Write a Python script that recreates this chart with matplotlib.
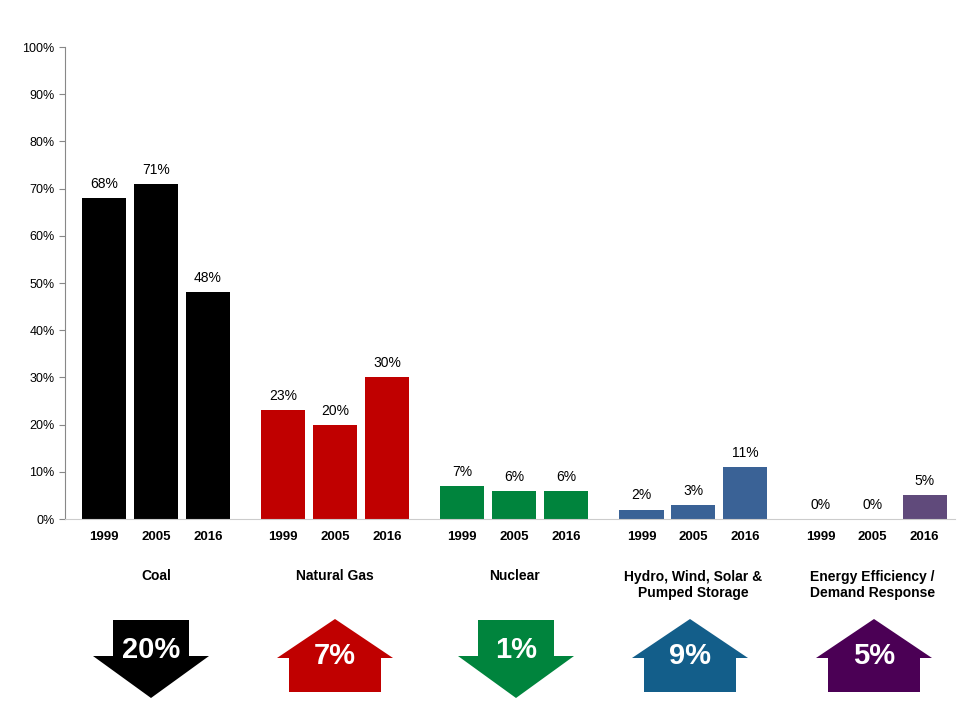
import numpy as np
import matplotlib.pyplot as plt
from matplotlib.patches import Polygon
from matplotlib.ticker import PercentFormatter

plt.rcParams['font.family'] = ['Liberation Sans', 'DejaVu Sans']

categories = ['Coal', 'Natural Gas', 'Nuclear', 'Hydro, Wind, Solar &\nPumped Storage',
              'Energy Efficiency /\nDemand Response']
years = ['1999', '2005', '2016']
values = [[68, 71, 48], [23, 20, 30], [7, 6, 6], [2, 3, 11], [0, 0, 5]]
bar_colors = ['#000000', '#C00000', '#00843D', '#3A6296', '#604A7B']
changes = ['20%', '7%', '1%', '9%', '5%']
directions = ['down', 'up', 'down', 'up', 'up']
arrow_colors = ['#000000', '#C00000', '#00843D', '#135E8A', '#4B0055']

W, H = 978, 722
fig = plt.figure(figsize=(W / 100, H / 100), dpi=100)
# axes box in pixels: left 65, right 955, top 47, bottom 519
ax = fig.add_axes([65 / W, 1 - 519 / H, (955 - 65) / W, (519 - 47) / H])

offsets = np.array([-0.29, 0, 0.29])
width = 0.246
for i, vals in enumerate(values):
    xs = i + offsets
    ax.bar(xs, vals, width, color=bar_colors[i])
    for x, v, yr in zip(xs, vals, years):
        ax.text(x, v + 1.5, f'{v}%', ha='center', va='bottom', fontsize=10)
        ax.text(x, -2.5, yr, ha='center', va='top', fontsize=9.5, fontweight='bold')
    ax.text(i, -10.5 if '\n' not in categories[i] else -10.8, categories[i],
            ha='center', va='top', fontsize=10, fontweight='bold', linespacing=1.2)

ax.set_xlim(-0.508, 4.46)
ax.set_ylim(0, 100)
ax.set_yticks(range(0, 101, 10))
ax.yaxis.set_major_formatter(PercentFormatter(decimals=0))
ax.tick_params(axis='y', labelsize=9, length=4, color='#888888')
ax.set_xticks([])
for s in ['top', 'right']:
    ax.spines[s].set_visible(False)
ax.spines['left'].set_color('#888888')
ax.spines['bottom'].set_color('#cccccc')

centers_px = [151, 335, 516, 690, 874]
for cx, lab, d, col in zip(centers_px, changes, directions, arrow_colors):
    hw, sw = 58, 38
    if d == 'down':
        pts = [(cx - sw, 620), (cx + sw, 620), (cx + sw, 656), (cx + hw, 656),
               (cx, 698), (cx - hw, 656), (cx - sw, 656)]
        ty = 650
    else:
        pts = [(cx, 619), (cx + hw, 658), (cx + sw + 8, 658), (cx + sw + 8, 692),
               (cx - sw - 8, 692), (cx - sw - 8, 658), (cx - hw, 658)]
        ty = 656
    pts = [(x / W, 1 - y / H) for x, y in pts]
    fig.add_artist(Polygon(pts, closed=True, facecolor=col, edgecolor='none',
                           transform=fig.transFigure))
    fig.text(cx / W, 1 - ty / H, lab, ha='center', va='center', color='white',
             fontsize=21, fontweight='bold')

fig.savefig('out.png', dpi=100)
